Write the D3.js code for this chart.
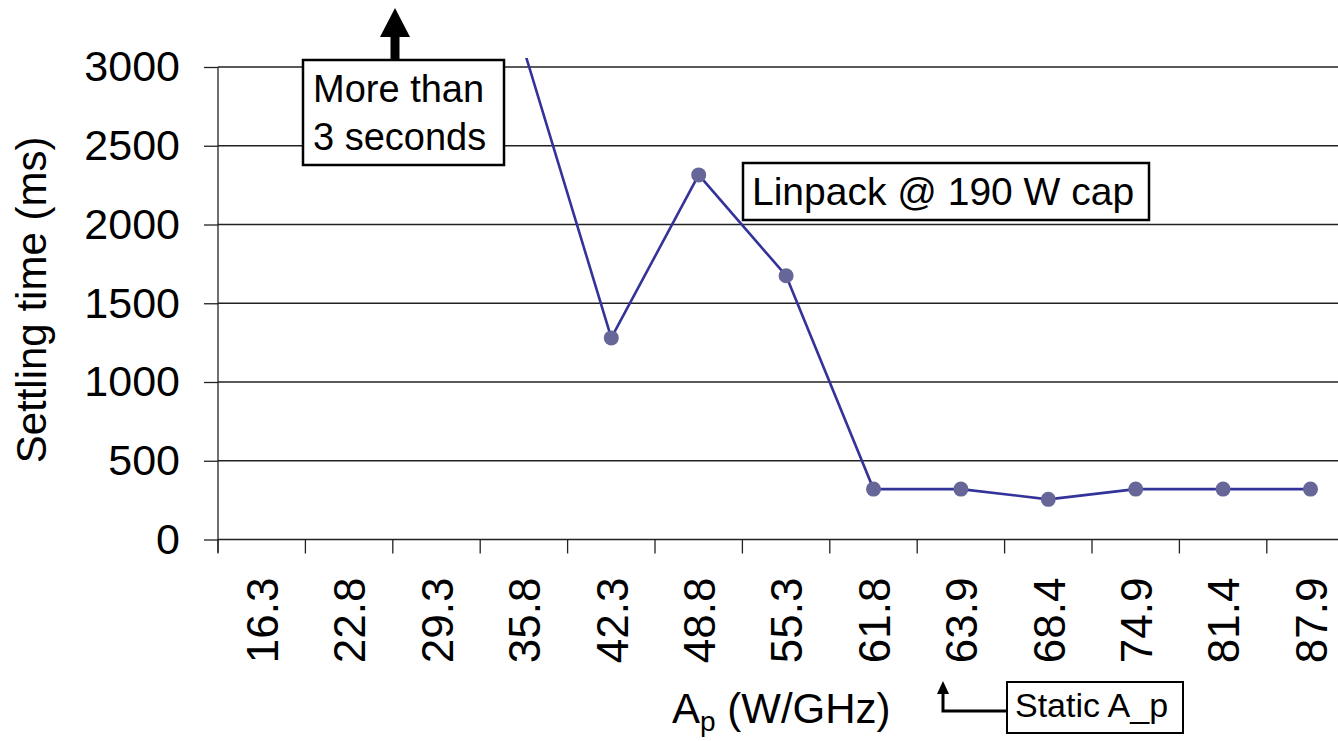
<!DOCTYPE html>
<html>
<head>
<meta charset="utf-8">
<script src="https://cdn.jsdelivr.net/npm/d3@7"></script>
<style>
  body { margin: 0; background: #fff; }
  svg { display: block; font-family: "Liberation Sans", Arial, Helvetica, sans-serif; }
  .grid line { stroke: #222; stroke-width: 1.3; }
  .axis line, .axis path { stroke: #222; stroke-width: 1.3; }
</style>
</head>
<body>
<svg class="settling" width="1338" height="741"></svg>
<script>
// A_p categories (W/GHz) on the x axis
const categories = ["16.3", "22.8", "29.3", "35.8", "42.3", "48.8", "55.3", "61.8", "63.9", "68.4", "74.9", "81.4", "87.9"]
// settling time (ms); null = more than 3 seconds, off the chart
const settling = [null, null, null, 3110, 1280, 2315, 1675, 320, 320, 255, 320, 320, 320]
const yTicks = [0, 500, 1000, 1500, 2000, 2500, 3000]

const svg = d3.select("svg.settling")
const width = 1338, height = 741
const plot = { left: 218, top: 67, bottom: 539.5, bandWidth: 87.4 }

const x = d3.scaleBand()
  .domain(categories)
  .range([plot.left, plot.left + plot.bandWidth * categories.length])
  .padding(0)

const y = d3.scaleLinear().domain([0, 3000]).range([plot.bottom, plot.top])

// gridlines
svg.append("g").attr("class", "grid")
  .selectAll("line")
  .data(yTicks.filter(d => d > 0))
  .join("line")
  .attr("x1", plot.left).attr("x2", width)
  .attr("y1", d => y(d)).attr("y2", d => y(d))

// y axis
const yAxis = svg.append("g").attr("class", "axis")
  .attr("transform", `translate(${plot.left},0)`)
  .call(d3.axisLeft(y).tickValues(yTicks).tickFormat(d3.format("d"))
    .tickSize(14).tickPadding(24).tickSizeOuter(0))
yAxis.selectAll("text").attr("font-size", 43).attr("fill", "#000").attr("font-family", null)
yAxis.select(".domain").attr("d", `M0,${plot.top}V${plot.bottom + 13}`)

// x axis line and ticks between categories
const xg = svg.append("g").attr("class", "axis")
xg.append("line")
  .attr("x1", plot.left).attr("x2", width)
  .attr("y1", y(0)).attr("y2", y(0))
xg.selectAll("line.tick")
  .data(categories)
  .join("line")
  .attr("class", "tick")
  .attr("x1", d => x(d)).attr("x2", d => x(d))
  .attr("y1", y(0)).attr("y2", y(0) + 14)

xg.selectAll("text")
  .data(categories)
  .join("text")
  .attr("transform", d => `translate(${x(d) + x.bandwidth() / 2},${y(0) + 38}) rotate(-90)`)
  .attr("text-anchor", "end")
  .attr("dy", "0.37em")
  .attr("font-size", 44)
  .text(d => d)

// axis titles
svg.append("text")
  .attr("transform", `translate(46,${300}) rotate(-90)`)
  .attr("text-anchor", "middle")
  .attr("font-size", 42)
  .text("Settling time (ms)")

const xt = svg.append("text")
  .attr("x", 672).attr("y", 723)
  .attr("font-size", 42)
xt.append("tspan").text("A")
xt.append("tspan").attr("font-size", 28).attr("dy", 8).text("p")
xt.append("tspan").attr("dy", -8).text(" (W/GHz)")

// series line, clipped to the plot area
svg.append("clipPath").attr("id", "clip")
  .append("rect")
  .attr("x", plot.left).attr("y", 58)
  .attr("width", width - plot.left).attr("height", plot.bottom - 58)

const pts = categories.map((c, i) => ({ c, v: settling[i] }))
const line = d3.line()
  .defined(d => d.v !== null)
  .x(d => x(d.c) + x.bandwidth() / 2)
  .y(d => y(d.v))

svg.append("path")
  .datum(pts)
  .attr("clip-path", "url(#clip)")
  .attr("fill", "none")
  .attr("stroke", "#333399")
  .attr("stroke-width", 2.6)
  .attr("d", line)

svg.append("g")
  .selectAll("circle")
  .data(pts.filter(d => d.v !== null && d.v <= 3000))
  .join("circle")
  .attr("cx", d => x(d.c) + x.bandwidth() / 2)
  .attr("cy", d => y(d.v))
  .attr("r", 7.5)
  .attr("fill", "#666699")

// "More than 3 seconds" box with arrow
const more = svg.append("g")
more.append("rect")
  .attr("x", 303).attr("y", 60).attr("width", 201).attr("height", 105)
  .attr("fill", "#fff").attr("stroke", "#000").attr("stroke-width", 2.5)
more.append("rect")
  .attr("x", 390.5).attr("y", 34).attr("width", 9).attr("height", 26)
  .attr("fill", "#000")
more.append("path")
  .attr("d", "M395,8 L410,37 L380,37 Z")
  .attr("fill", "#000")
more.append("text").attr("x", 313).attr("y", 102).attr("font-size", 38).text("More than")
more.append("text").attr("x", 313).attr("y", 150).attr("font-size", 38).text("3 seconds")

// Linpack label
const lin = svg.append("g")
lin.append("rect")
  .attr("x", 743).attr("y", 163).attr("width", 406).attr("height", 57)
  .attr("fill", "#fff").attr("stroke", "#000").attr("stroke-width", 2.5)
lin.append("text").attr("x", 752).attr("y", 205).attr("font-size", 39).text("Linpack @ 190 W cap")

// Static A_p callout
const stat = svg.append("g")
stat.append("path")
  .attr("d", "M1007,711 H943 V692")
  .attr("fill", "none").attr("stroke", "#000").attr("stroke-width", 3)
stat.append("path")
  .attr("d", "M943,681 L949,694 L937,694 Z")
  .attr("fill", "#000")
stat.append("rect")
  .attr("x", 1007).attr("y", 682).attr("width", 176).attr("height", 51)
  .attr("fill", "#fff").attr("stroke", "#000").attr("stroke-width", 2)
stat.append("text").attr("x", 1015).attr("y", 717).attr("font-size", 34).text("Static A_p")
</script>
</body>
</html>
